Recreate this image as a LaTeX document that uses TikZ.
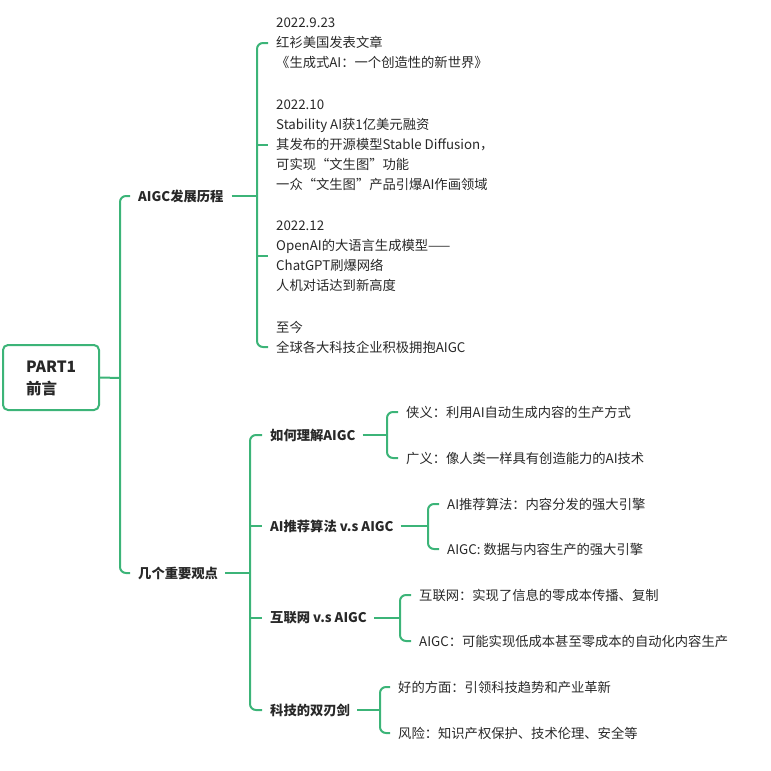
\documentclass[tikz,border=0pt]{standalone}
\usepackage{fontspec}
\setmainfont{Noto Sans CJK SC}
\begin{document}
\begin{tikzpicture}[x=1pt,y=-1pt,
  br/.style={draw=gr,line width=2pt,rounded corners=6pt},
  tx/.style={anchor=west,inner sep=0pt,text=tc,font=\fontsize{13.3}{20}\selectfont,align=left},
  bt/.style={tx,font=\fontsize{13.3}{20}\selectfont\bfseries}]
\definecolor{gr}{RGB}{60,180,120}
\definecolor{tc}{RGB}{40,40,40}
\useasboundingbox (0,0) rectangle (771,771);
\node[draw=gr,line width=2pt,rounded corners=5pt,minimum width=96pt,minimum height=65pt,fill=white] (root) at (51,377.5) {};
\node[tx,font=\fontsize{15.5}{22}\selectfont\bfseries,align=left] (rt) at (26,378) {PART1\\前言};
% level 1
\node[bt] (a) at (138,196) {AIGC发展历程};
\node[bt] (b) at (138,573) {几个重要观点};
\draw[br] (root.east) -- (120,378);
\draw[br] (130,196) -- (120,196) -- (120,573) -- (130,573);
% group A
\node[tx] (a1) at (276,43) {2022.9.23\\红衫美国发表文章\\《生成式AI：一个创造性的新世界》};
\node[tx] (a2) at (276,145) {2022.10\\Stability AI获1亿美元融资\\其发布的开源模型Stable Diffusion，\\可实现“文生图”功能\\一众“文生图”产品引爆AI作画领域};
\node[tx] (a3) at (276,256) {2022.12\\OpenAI的大语言生成模型——\\ChatGPT刷爆网络\\人机对话达到新高度};
\node[tx] (a4) at (276,337) {至今\\全球各大科技企业积极拥抱AIGC};
\draw[br] ([xshift=8pt]a.east) -- (257,196);
\draw[br] (268,43) -- (257,43) -- (257,347) -- (268,347);
\draw[br] (257,145) -- (268,145);
\draw[br] (257,256) -- (268,256);
% group B
\node[bt] (b1) at (270,435) {如何理解AIGC};
\node[bt] (b2) at (270,526) {AI推荐算法 v.s AIGC};
\node[bt] (b3) at (270,618) {互联网 v.s AIGC};
\node[bt] (b4) at (270,710) {科技的双刃剑};
\draw[br] ([xshift=7pt]b.east) -- (250,573);
\draw[br] (262,435) -- (250,435) -- (250,710) -- (262,710);
\draw[br] (250,526) -- (262,526);
\draw[br] (250,618) -- (262,618);
% leaves
\node[tx] (c1) at (406,412) {侠义：利用AI自动生成内容的生产方式};
\node[tx] (c2) at (406,458) {广义：像人类一样具有创造能力的AI技术};
\draw[br] ([xshift=7pt]b1.east) -- (387,435);
\draw[br] (398,412) -- (387,412) -- (387,458) -- (398,458);
\node[tx] (d1) at (447,504) {AI推荐算法：内容分发的强大引擎};
\node[tx] (d2) at (447,549) {AIGC: 数据与内容生产的强大引擎};
\draw[br] ([xshift=7pt]b2.east) -- (428,526);
\draw[br] (439,504) -- (428,504) -- (428,549) -- (439,549);
\node[tx] (e1) at (419,595) {互联网：实现了信息的零成本传播、复制};
\node[tx] (e2) at (419,641) {AIGC：可能实现低成本甚至零成本的自动化内容生产};
\draw[br] ([xshift=7pt]b3.east) -- (400,618);
\draw[br] (411,595) -- (400,595) -- (400,641) -- (411,641);
\node[tx] (f1) at (398,687) {好的方面：引领科技趋势和产业革新};
\node[tx] (f2) at (398,733) {风险：知识产权保护、技术伦理、安全等};
\draw[br] ([xshift=7pt]b4.east) -- (380,710);
\draw[br] (390,687) -- (380,687) -- (380,733) -- (390,733);
\end{tikzpicture}
\end{document}
